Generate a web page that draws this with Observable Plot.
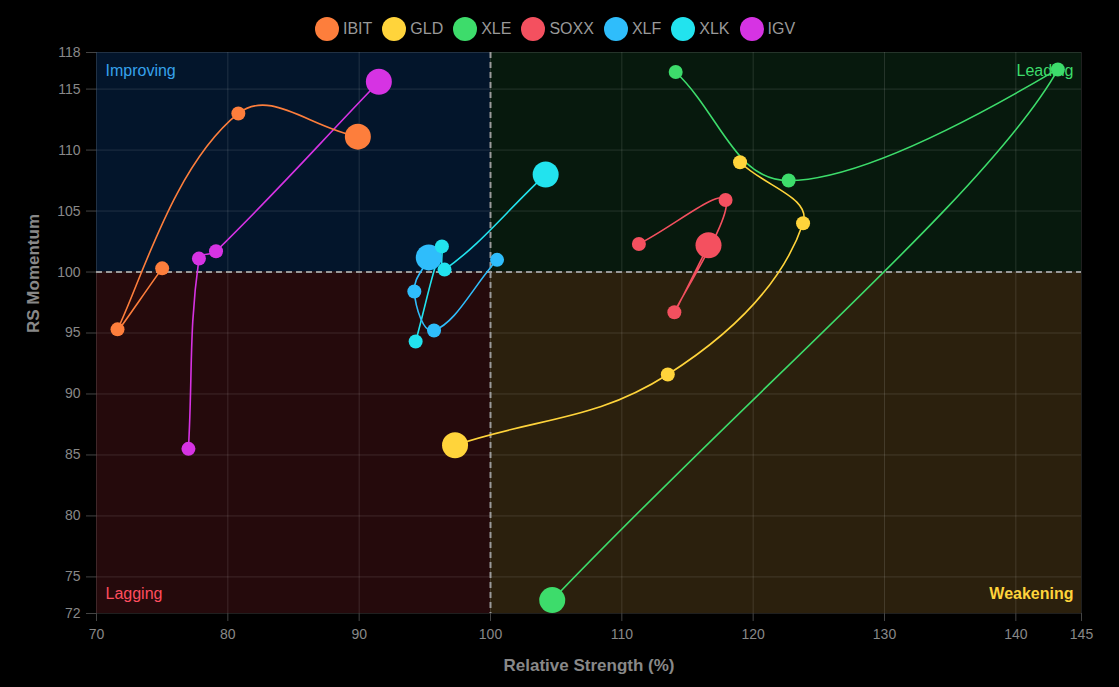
<!DOCTYPE html>
<html>
<head>
<meta charset="utf-8">
<script src="https://cdn.jsdelivr.net/npm/d3@7"></script>
<script src="https://cdn.jsdelivr.net/npm/@observablehq/plot@0.6"></script>
<style>
  html, body { margin: 0; padding: 0; background: #000; }
  body { width: 1119px; height: 687px; overflow: hidden; font-family: "Liberation Sans", Arial, Helvetica, sans-serif; }
  #legend { display: flex; justify-content: center; align-items: center; gap: 10px; padding-top: 17px; padding-right: 9px; height: 24px; }
  .item { display: flex; align-items: center; gap: 4px; color: #999; font-size: 16px; }
  .sw { width: 24px; height: 24px; border-radius: 50%; display: inline-block; }
</style>
</head>
<body>
<div id="legend"></div>
<div id="chart"></div>
<script>
// ---- data ----
const tickers = ["IBIT", "GLD", "XLE", "SOXX", "XLF", "XLK", "IGV"];
const colors  = ["#fd7e3c", "#ffd43b", "#3ddc6b", "#f4505f", "#2fbdfb", "#22e3ee", "#d633e3"];

// relative strength (x) and momentum (y), oldest -> latest
const IBIT_RS  = [75.0, 71.6, 80.8, 89.9];
const IBIT_MOM = [100.3, 95.3, 113.0, 111.1];
const GLD_RS   = [119.0, 123.8, 113.5, 97.3];
const GLD_MOM  = [109.0, 104.0, 91.6, 85.8];
const XLE_RS   = [114.1, 122.7, 143.2, 104.7];
const XLE_MOM  = [116.4, 107.5, 116.6, 73.1];
const SOXX_RS  = [111.3, 117.9, 114.0, 116.6];
const SOXX_MOM = [102.3, 105.9, 96.7, 102.2];
const XLF_RS   = [100.5, 95.7, 94.2, 95.3];
const XLF_MOM  = [101.0, 95.2, 98.4, 101.2];
const XLK_RS   = [94.3, 96.3, 96.5, 104.2];
const XLK_MOM  = [94.3, 102.1, 100.2, 108.0];
const IGV_RS   = [77.0, 77.8, 79.1, 91.5];
const IGV_MOM  = [85.5, 101.1, 101.7, 115.6];

const xTicks = [70, 80, 90, 100, 110, 120, 130, 140, 145];
const yTicks = [72, 75, 80, 85, 90, 95, 100, 105, 110, 115, 118];

const quadNames  = ["Improving", "Leading", "Lagging", "Weakening"];
const quadX1     = [70, 100, 70, 100];
const quadX2     = [100, 145, 100, 145];
const quadY1     = [100, 100, 72, 72];
const quadY2     = [118, 118, 100, 100];
const quadFill   = ["#03152b", "#07190d", "#250a0c", "#2b200d"];
const quadText   = ["#36a2eb", "#3ddc6b", "#ff4d5e", "#ffd43b"];

// ---- build table ----
const seriesRS  = [IBIT_RS, GLD_RS, XLE_RS, SOXX_RS, XLF_RS, XLK_RS, IGV_RS];
const seriesMOM = [IBIT_MOM, GLD_MOM, XLE_MOM, SOXX_MOM, XLF_MOM, XLK_MOM, IGV_MOM];
const points = [];
for (let s = tickers.length - 1; s >= 0; s--) {
  const xs = seriesRS[s], ys = seriesMOM[s];
  xs.forEach((x, i) => points.push({ticker: tickers[s], x, y: ys[i], last: i === xs.length - 1}));
}
const quads = quadNames.map((name, i) => ({name, x1: quadX1[i], x2: quadX2[i], y1: quadY1[i], y2: quadY2[i], fill: quadFill[i]}));

// ---- legend ----
const legend = document.getElementById("legend");
tickers.forEach((t, i) => {
  const it = document.createElement("div");
  it.className = "item";
  it.innerHTML = `<span class="sw" style="background:${colors[i]}"></span><span>${t}</span>`;
  legend.appendChild(it);
});

// ---- layout ----
const W = 1119, H = 646, mT = 11, mB = 74, mL = 96, mR = 38;
const area = {left: mL, right: W - mR, top: mT, bottom: H - mB};

// Spline like a tension-0.4 line chart, control points capped to the plot area
function tensionCurve(context) {
  let pts;
  const t = 0.4;
  const cap = (v, lo, hi) => Math.max(lo, Math.min(hi, v));
  return {
    areaStart() {}, areaEnd() {},
    lineStart() { pts = []; },
    point(x, y) { pts.push({x: +x, y: +y}); },
    lineEnd() {
      const n = pts.length;
      if (!n) return;
      const cps = pts.map((cur, i) => {
        const prev = pts[i - 1] || cur, next = pts[i + 1] || cur;
        const d01 = Math.hypot(cur.x - prev.x, cur.y - prev.y);
        const d12 = Math.hypot(next.x - cur.x, next.y - cur.y);
        let s01 = d01 / (d01 + d12), s12 = d12 / (d01 + d12);
        if (isNaN(s01)) s01 = 0;
        if (isNaN(s12)) s12 = 0;
        const fa = t * s01, fb = t * s12;
        const c = {
          px: cur.x - fa * (next.x - prev.x), py: cur.y - fa * (next.y - prev.y),
          nx: cur.x + fb * (next.x - prev.x), ny: cur.y + fb * (next.y - prev.y)
        };
        c.px = cap(c.px, area.left, area.right); c.nx = cap(c.nx, area.left, area.right);
        c.py = cap(c.py, area.top, area.bottom); c.ny = cap(c.ny, area.top, area.bottom);
        return c;
      });
      context.moveTo(pts[0].x, pts[0].y);
      for (let i = 1; i < n; i++) {
        context.bezierCurveTo(cps[i - 1].nx, cps[i - 1].ny, cps[i].px, cps[i].py, pts[i].x, pts[i].y);
      }
    }
  };
}

// ---- chart ----
const font = "'Liberation Sans', Arial, Helvetica, sans-serif";
const qLabel = (i, anchor, dx, dy, weight) => Plot.text([quads[i]], {
  frameAnchor: anchor, dx, dy, text: "name", fill: quadText[i],
  fontSize: 16, fontWeight: weight, lineAnchor: "middle"
});

const chart = Plot.plot({
  width: W,
  height: H,
  marginTop: mT,
  marginBottom: mB,
  marginLeft: mL,
  marginRight: mR,
  style: {background: "transparent", color: "#888", fontFamily: font, fontSize: "14px"},
  x: {domain: [70, 145], label: null},
  y: {domain: [72, 118], label: null},
  r: {type: "identity"},
  color: {domain: tickers, range: colors},
  marks: [
    Plot.rect(quads, {x1: "x1", x2: "x2", y1: "y1", y2: "y2", fill: d => d.fill}),
    Plot.gridX(xTicks, {stroke: "#fff", strokeOpacity: 0.12}),
    Plot.gridY(yTicks, {stroke: "#fff", strokeOpacity: 0.12}),
    Plot.ruleX([100], {stroke: "#9a9a9a", strokeWidth: 2, strokeDasharray: "6,4"}),
    Plot.ruleY([100], {stroke: "#9a9a9a", strokeWidth: 2, strokeDasharray: "6,4"}),
    Plot.axisX({ticks: xTicks, tickSize: 8, tickPadding: 8, stroke: "#444", fill: "#888", fontSize: 14, label: null}),
    Plot.axisY({ticks: yTicks, tickSize: 10, tickPadding: 6, stroke: "#444", fill: "#888", fontSize: 14, label: null}),
    qLabel(0, "top-left", 9, 18, 500),
    qLabel(1, "top-right", -8, 18, 500),
    qLabel(2, "bottom-left", 9, -20, 500),
    qLabel(3, "bottom-right", -8, -20, 700),
    Plot.line(points, {x: "x", y: "y", z: "ticker", stroke: "ticker", strokeWidth: 1.6, curve: tensionCurve}),
    Plot.dot(points, {x: "x", y: "y", fill: "ticker", r: d => d.last ? 13 : 7}),
    Plot.text(["Relative Strength (%)"], {frameAnchor: "bottom", dy: 52, text: d => d, fill: "#888", fontSize: 17, fontWeight: "bold", lineAnchor: "middle"}),
    Plot.text(["RS Momentum"], {frameAnchor: "left", dx: -63, text: d => d, fill: "#888", fontSize: 17, fontWeight: "bold", rotate: -90, lineAnchor: "middle"})
  ]
});
document.getElementById("chart").appendChild(chart);
</script>
</body>
</html>
